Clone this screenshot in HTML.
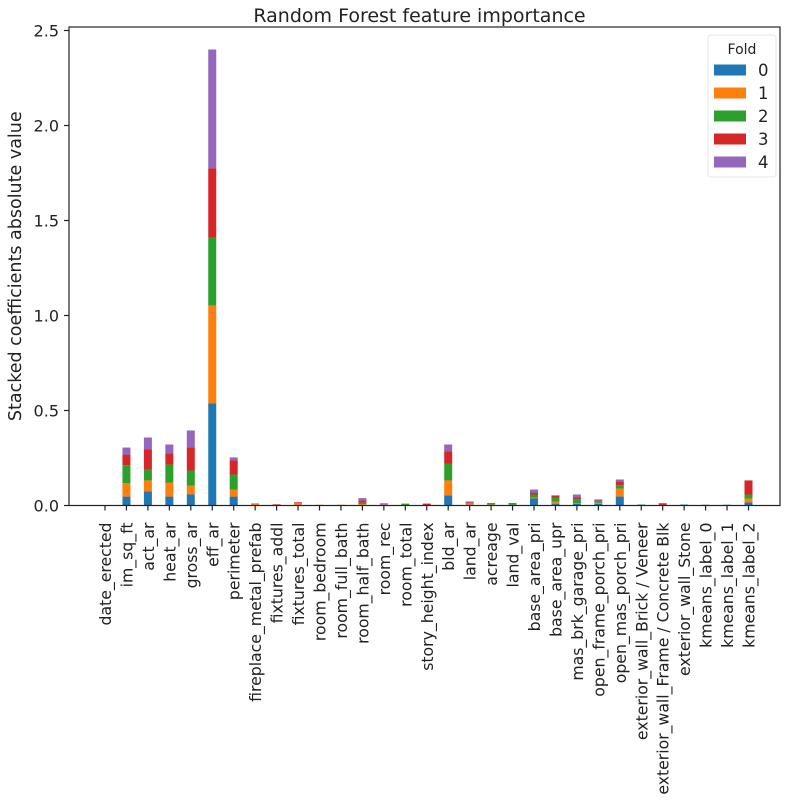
<!DOCTYPE html>
<html><head><meta charset="utf-8"><style>
body{margin:0;background:#fff;}
svg text{font-family:"DejaVu Sans","Liberation Sans",sans-serif;fill:#222;}
</style></head><body>
<svg id="chart" width="790" height="807"></svg>
<script>
const categories=["date_erected","im_sq_ft","act_ar","heat_ar","gross_ar","eff_ar","perimeter","fireplace_metal_prefab","fixtures_addl","fixtures_total","room_bedroom","room_full_bath","room_half_bath","room_rec","room_total","story_height_index","bld_ar","land_ar","acreage","land_val","base_area_pri","base_area_upr","mas_brk_garage_pri","open_frame_porch_pri","open_mas_porch_pri","exterior_wall_Brick / Veneer","exterior_wall_Frame / Concrete Blk","exterior_wall_Stone","kmeans_label_0","kmeans_label_1","kmeans_label_2"];
const fold0=[0,.047,.074,.047,.058,.537,.047,.002,.001,.003,.001,.001,.002,0,.002,.002,.053,.004,.003,.004,.037,.010,.010,.008,.047,.005,.003,.005,.004,.004,.016];
const fold1=[0,.070,.058,.074,.047,.516,.037,.007,0,.007,.003,.003,.005,.004,0,0,.079,.005,.002,0,.005,.011,.002,.006,.042,0,0,0,0,0,.021];
const fold2=[0,.095,.057,.095,.079,.357,.079,0,0,.002,0,0,.008,0,.008,0,.089,.003,.005,.006,.016,.021,.020,.008,.018,0,0,0,0,0,.021];
const fold3=[0,.056,.106,.058,.121,.364,.074,.002,.005,.005,0,0,.012,0,0,.008,.063,.004,.003,.003,.010,.011,.010,.004,.019,0,.007,0,0,0,.074];
const fold4=[0,.037,.063,.047,.090,.626,.016,0,0,0,0,0,.012,.008,0,0,.037,.005,0,0,.016,0,.016,.006,.011,0,.003,0,0,0,0];
const series=[fold0,fold1,fold2,fold3,fold4];
const foldLabels=["0","1","2","3","4"];
const colors=["#1f77b4","#ff7f0e","#2ca02c","#d62728","#9467bd"];
const yTicks=[0,0.5,1.0,1.5,2.0,2.5];

const NS="http://www.w3.org/2000/svg";
const svg=document.getElementById("chart");
const L=69,R=780,T=27,B=505.5;
const xPos=i=>105+i*21.45;
const yPos=v=>B-v*190;
function mk(tag,attrs,parent){const e=document.createElementNS(NS,tag);for(const k in attrs)e.setAttribute(k,attrs[k]);(parent||svg).appendChild(e);return e;}

let t=mk("text",{x:(L+R)/2-5,y:22,"text-anchor":"middle","font-size":"19"});t.textContent="Random Forest feature importance";


t=mk("text",{x:0,y:0,"text-anchor":"middle","font-size":"17.5",transform:`translate(21,${(T+B)/2}) rotate(-90)`});t.textContent="Stacked coefficients absolute value";



yTicks.forEach(v=>{
  const y=yPos(v);
  const l=mk("line",{x1:L-5,x2:L,y1:y,y2:y,stroke:"#222","stroke-width":1.2});
  
  
  const tx=mk("text",{x:L-10,y:y+6,"text-anchor":"end","font-size":"16"});tx.textContent=v.toFixed(1);
  
  
});

categories.forEach((c,i)=>{
  const x=xPos(i);
  let cum=0;
  series.forEach((s,k)=>{
    const v=s[i];
    if(v>0){
      const r=mk("rect",{x:x-4,y:yPos(cum+v),width:8,height:v*190,fill:colors[k]});
      
      
    }
    cum+=v;
  });
  const l=mk("line",{x1:x,x2:x,y1:B,y2:B+5,stroke:"#222","stroke-width":1.2});
  
  
  const tx=mk("text",{x:0,y:0,"text-anchor":"end","font-size":"15.7",transform:`translate(${x+6},${B+17}) rotate(-90)`});tx.textContent=c;
  
  
});

const frame=mk("rect",{x:L,y:T,width:R-L,height:B-T,fill:"none",stroke:"#222","stroke-width":1.2});



const lg=mk("g",{});


mk("rect",{x:708,y:35,width:68,height:142,rx:3,fill:"#fff",stroke:"#e6e6e6"},lg);
t=mk("text",{x:742,y:54,"text-anchor":"middle","font-size":"14"},lg);t.textContent="Fold";


foldLabels.forEach((f,k)=>{
  const y=70+k*23;
  const r=mk("rect",{x:714,y:y-5.5,width:32,height:11,fill:colors[k]},lg);
  
  
  const tx=mk("text",{x:758,y:y+6,"font-size":"16.5"},lg);tx.textContent=f;
  
  
});
</script>
</body></html>
